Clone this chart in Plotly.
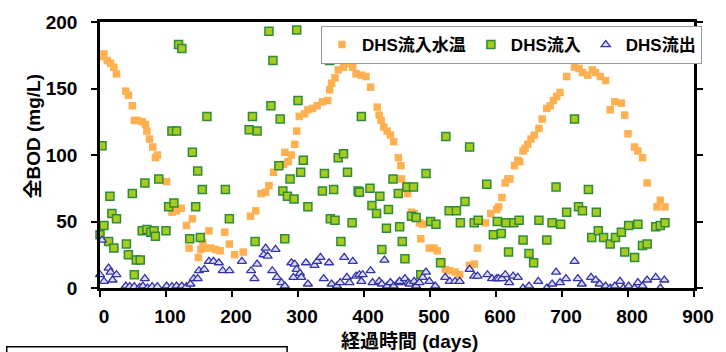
import plotly.graph_objects as go

# ---- data ----
temp_x = [1, 6, 11, 16, 21, 25, 39, 43, 49, 52, 57, 64, 69, 71, 75, 80, 84, 87, 101, 109,
          116, 123, 131, 135, 140, 149, 153, 156, 160, 165, 168, 175, 182, 189, 196, 204, 217, 228, 236, 244,
          251, 256, 263, 271, 278, 280, 285, 290, 295, 298, 302, 310, 315, 322, 329, 337, 345, 348, 351, 356,
          361, 369, 376, 381, 383, 388, 396, 403, 410, 420, 423, 426, 430, 435, 440, 445, 452, 456, 457, 464,
          466, 472, 476, 484, 486, 489, 499, 506, 511, 518, 523, 530, 538, 545, 560, 567, 572, 584, 592, 601,
          604, 609, 614, 618, 621, 628, 633, 636, 641, 644, 648, 653, 658, 665, 670, 677, 682, 687, 692, 697,
          707, 719, 726, 731, 739, 746, 751, 758, 766, 773, 780, 790, 795, 800, 810, 815, 822, 829, 844, 849, 856]
temp_y = [174, 176, 171, 169, 166, 161, 148, 145, 137, 126, 126, 125, 123, 118, 112, 106, 98, 100, 80, 57,
          58, 60, 47, 30, 52, 23, 29, 34, 30, 43, 30, 29, 28, 42, 33, 25, 27, 54, 58, 71,
          72, 77, 87, 92, 93, 102, 95, 100, 108, 118, 129, 131, 134, 135, 137, 140, 141, 149, 154, 158,
          164, 166, 169, 171, 166, 161, 160, 159, 151, 136, 130, 126, 121, 118, 115, 110, 98, 92, 82, 77,
          71, 57, 56, 49, 37, 48, 30, 30, 28, 20, 14, 13, 12, 10, 17, 18, 30, 49, 56, 59,
          61, 68, 79, 82, 82, 92, 96, 95, 103, 105, 108, 112, 115, 120, 127, 135, 137, 141, 144, 147,
          159, 166, 165, 162, 160, 164, 162, 159, 156, 134, 140, 139, 130, 116, 106, 103, 98, 79, 61, 66, 61]

inf_x = [0, 3, 6, 13, 15, 18, 21, 25, 40, 43, 49, 52, 55, 61, 64, 68, 71, 77, 82, 84,
         89, 100, 104, 109, 112, 116, 119, 124, 136, 140, 145, 148, 152, 155, 162, 190, 196, 226, 231, 235,
         238, 256, 259, 262, 271, 273, 277, 280, 284, 288, 294, 298, 300, 304, 308, 315, 337, 340, 348, 349,
         354, 356, 361, 365, 369, 371, 375, 382, 391, 393, 396, 409, 412, 419, 424, 427, 434, 437, 444, 452,
         454, 458, 462, 465, 472, 475, 479, 486, 494, 501, 509, 516, 524, 529, 540, 546, 553, 560, 567, 573,
         586, 596, 602, 608, 615, 619, 627, 635, 641, 650, 657, 665, 677, 685, 691, 698, 707, 719, 725, 731,
         740, 745, 752, 755, 763, 773, 781, 790, 795, 801, 810, 815, 822, 829, 842, 849, 856]
inf_y = [40, 107, 47, 35, 69, 56, 30, 52, 33, 25, 71, 10, 21, 21, 43, 79, 44, 42, 43, 39,
         82, 43, 61, 118, 64, 118, 183, 180, 37, 102, 61, 88, 38, 74, 129, 74, 52, 119, 129, 35,
         118, 193, 137, 171, 92, 127, 73, 37, 69, 82, 67, 194, 141, 87, 96, 61, 73, 86, 171, 52,
         74, 51, 98, 35, 101, 173, 87, 49, 73, 72, 129, 75, 62, 56, 69, 29, 45, 59, 82, 71,
         46, 35, 22, 76, 54, 76, 53, 10, 86, 50, 48, 19, 114, 58, 58, 49, 65, 106, 49, 51,
         78, 40, 50, 41, 49, 27, 49, 51, 36, 26, 19, 51, 36, 49, 76, 48, 57, 127, 61, 58,
         74, 38, 57, 43, 38, 33, 38, 42, 27, 47, 23, 48, 32, 33, 46, 47, 49]

eff_x = [0, 3, 6, 13, 16, 19, 25, 39, 45, 52, 60, 65, 68, 72, 79, 87, 101, 109, 116, 124,
         131, 137, 142, 148, 150, 158, 165, 172, 180, 186, 196, 215, 229, 234, 238, 248, 251, 254, 261, 266,
         268, 275, 280, 290, 293, 295, 298, 303, 305, 312, 315, 325, 329, 334, 339, 347, 351, 359, 364, 370,
         374, 378, 383, 388, 393, 396, 398, 410, 413, 423, 427, 431, 435, 440, 445, 452, 454, 462, 467, 469,
         476, 479, 484, 489, 494, 499, 508, 523, 530, 538, 545, 560, 567, 572, 587, 594, 601, 604, 609, 614,
         620, 626, 633, 641, 650, 664, 677, 685, 691, 697, 706, 719, 724, 730, 744, 751, 757, 766, 773, 780,
         788, 793, 801, 810, 815, 822, 829, 842, 849, 855]
eff_y = [10, 36, 5, 15, 12, 6, 10, 1.5, 1, 1, 0.5, 1.5, 7, 0, 1, 1, 1.5, 1, 1.5, 1.5,
         1, 3, 7, 7, 13, 14, 20, 20, 19, 13, 13, 20, 13, 7, 18, 25, 30, 24, 13, 29,
         8, 4, 1.5, 19, 8, 18, 14, 11, 8, 19, 3, 17, 20, 23, 7, 19, 3, 1.5, 4, 23,
         8, 4, 20, 9, 10, 5, 10, 13, 4, 5, 3, 21, 1.5, 4, 1.5, 4, 5, 7, 4, 3,
         5, 1.5, 4, 8, 12, 5, 1.5, 8, 5, 5, 5, 14, 9, 9, 10, 7, 7, 7, 7, 10,
         4, 9, 8, 0, 1.5, 5, 0, 3, 12, 4, 7, 20, 7, 3, 8, 6, 3, 1.5, 0, 1.5,
         5, 0, 1.5, 0, 4, 1.5, 6, 8, 0, 6]

names = ["DHS流入水温", "DHS流入", "DHS流出"]
x_ticks = [0, 100, 200, 300, 400, 500, 600, 700, 800, 900]
y_ticks = [0, 50, 100, 150, 200]

FONT = "Liberation Sans, Arial, Noto Sans CJK JP, sans-serif"

fig = go.Figure()
fig.add_trace(go.Scatter(
    x=temp_x, y=temp_y, mode="markers", name=names[0], cliponaxis=False,
    marker=dict(symbol="square", size=7.5, color="#FFB050", line=dict(width=0))))
fig.add_trace(go.Scatter(
    x=inf_x, y=inf_y, mode="markers", name=names[1], cliponaxis=False,
    marker=dict(symbol="square", size=8, color="#A8CC1E", line=dict(width=1.5, color="#2E8B3A"))))
fig.add_trace(go.Scatter(
    x=eff_x, y=eff_y, mode="markers", name=names[2], cliponaxis=False,
    marker=dict(symbol="triangle-up", size=8, color="#DCDCF8", line=dict(width=1.3, color="#3434A8"))))

axis_font = dict(family=FONT, size=19, color="black", weight="bold")

fig.update_xaxes(
    range=[0, 900], tickvals=x_ticks, showgrid=False, zeroline=False,
    showline=True, linecolor="black", linewidth=2.5, mirror=True,
    ticks="outside", ticklen=6, tickwidth=2, tickcolor="black",
    tickfont=axis_font, ticklabelshift=4, ticklabelstandoff=3)
fig.update_yaxes(
    range=[0, 200], tickvals=y_ticks, showgrid=False, zeroline=False,
    showline=True, linecolor="black", linewidth=2.5, mirror="ticks",
    ticks="outside", ticklen=6, tickwidth=2, tickcolor="black",
    tickfont=axis_font, ticklabelstandoff=10)

fig.update_layout(
    width=726, height=352,
    margin=dict(l=100, r=14, t=22, b=64),
    paper_bgcolor="white", plot_bgcolor="white",
    showlegend=True,
    legend=dict(orientation="h", x=0.372, xanchor="left", y=0.985, yanchor="top",
                bgcolor="white", bordercolor="#999999", borderwidth=1,
                font=dict(family=FONT, size=17, color="black", weight="bold"),
                itemwidth=30, tracegroupgap=0),
    annotations=[
        dict(text="全BOD (mg/L)", xref="paper", yref="paper", x=-0.112, y=0.571,
             textangle=-90, showarrow=False, xanchor="center", yanchor="middle",
             font=dict(family=FONT, size=19, color="black", weight="bold")),
        dict(text="経過時間 (days)", xref="paper", yref="paper", x=0.521, y=-0.203,
             showarrow=False, xanchor="center", yanchor="middle",
             font=dict(family=FONT, size=19, color="black", weight="bold")),
    ],
    shapes=[
        dict(type="rect", xref="paper", yref="paper", x0=-0.157, x1=0.315, y0=-0.221, y1=-0.45,
             line=dict(color="black", width=1.5), fillcolor="rgba(0,0,0,0)"),
    ],
)

fig.write_html("out.html")
